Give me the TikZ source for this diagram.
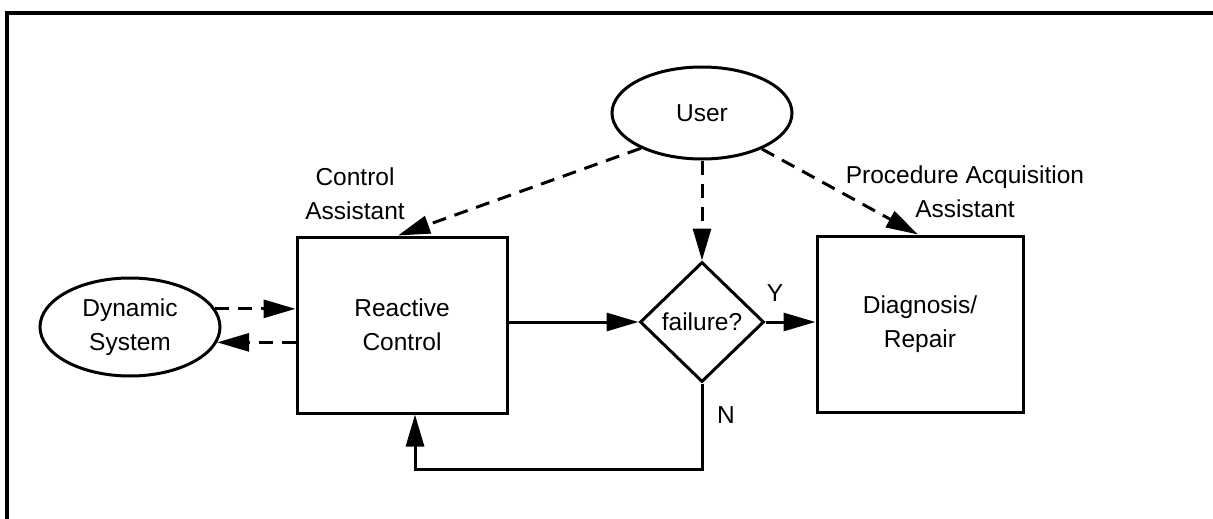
\documentclass[tikz,border=0pt]{standalone}
\usepackage{fontspec}
\setmainfont{Liberation Sans}
\usetikzlibrary{arrows.meta,shapes.geometric,calc}
\begin{document}
\begin{tikzpicture}[x=1pt,y=-1pt,
  every node/.style={font=\fontsize{24.5}{34}\selectfont, align=center},
  ln/.style={line width=3pt},
  tip/.style={-{Triangle[length=32pt,width=18pt]}},
  dasharr/.style={ln, tip, dash pattern=on 14pt off 9pt},
  solarr/.style={ln, tip},
  ellnode/.style={ellipse, draw, ln, inner sep=0pt},
  boxnode/.style={rectangle, draw, ln, inner sep=0pt},
  dianode/.style={diamond, draw, ln, inner sep=0pt, minimum width=124pt, minimum height=120pt},
  lbl/.style={inner sep=0pt}
]
\useasboundingbox (0,0) rectangle (1213,519);
% frame (top and left edges)
\draw[line width=3.5pt] (1213,13) -- (7,13) -- (7,519);

\node[ellnode, minimum width=180pt, minimum height=98pt] (dyn) at (130,327) {Dynamic\\System};
\node[boxnode, minimum width=210pt, minimum height=176pt] (rc) at (402,325) {Reactive\\Control};
\node[ellnode, minimum width=180pt, minimum height=92pt] (user) at (702,113) {User};
\node[dianode] (fail) at (702,322) {failure?};
\node[boxnode, minimum width=206pt, minimum height=176pt] (dia) at (920,324) {Diagnosis/\\Repair};

\node[lbl] (ca) at (355,194) {Control\\Assistant};
\node[lbl] (pa) at (965,192) {Procedure Acquisition\\Assistant};
\node[lbl] (y) at (775,293) {Y};
\node[lbl] (n) at (726,415) {N};

\draw[dasharr] (dyn.12) -- (rc.west |- dyn.12);
\draw[dasharr] (rc.west |- dyn.-10) -- (dyn.-10);
\draw[solarr] (rc.east |- fail.west) -- (fail.west);
\draw[solarr] (fail.east) -- (fail.east -| dia.west);
\coordinate (lp) at (415,469);
\draw[solarr] (fail.south) |- (lp) -- (lp |- rc.south);
\draw[dasharr] (user.south) -- (fail.north);
\draw[dasharr] (user.210) -- ([xshift=-4pt]rc.north);
\draw[dasharr] (user.-31) -- ([xshift=-2pt]dia.north);
\end{tikzpicture}
\end{document}
